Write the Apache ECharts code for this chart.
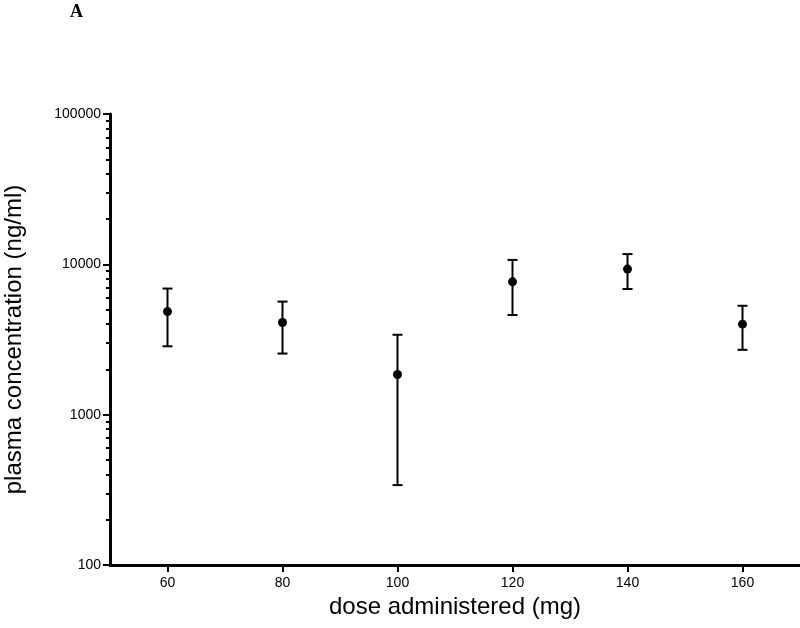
<!DOCTYPE html>
<html>
<head>
<meta charset="utf-8">
<script src="https://cdn.jsdelivr.net/npm/echarts@6/dist/echarts.min.js"></script>
<style>
html,body{margin:0;padding:0;background:#fff;}
#chart{width:800px;height:628px;}
</style>
</head>
<body>
<div id="chart"></div>
<script>
const doses = [60, 80, 100, 120, 140, 160];
const means = [4850, 4100, 1850, 7650, 9300, 4000];
const upper = [6900, 5650, 3400, 10700, 11700, 5300];
const lower = [2850, 2550, 340, 4600, 6850, 2700];
const xTickValues = [60, 80, 100, 120, 140, 160];
const yMajorTicks = [100, 1000, 10000, 100000];
const yMinorTicks = [200,300,400,500,600,700,800,900,2000,3000,4000,5000,6000,7000,8000,9000,20000,30000,40000,50000,60000,70000,80000,90000];

const FONT = 'Liberation Sans, Arial, sans-serif';
const chart = echarts.init(document.getElementById('chart'), null, {renderer: 'canvas'});

const errData = doses.map((d, i) => [d, lower[i], upper[i]]);
const ptData = doses.map((d, i) => [d, means[i]]);

chart.setOption({
  animation: false,
  backgroundColor: '#fff',
  title: {
    text: 'A', left: 70, top: 3, padding: 0,
    textStyle: {fontFamily: 'Liberation Serif, serif', fontWeight: 'bold', fontSize: 18, color: '#000'}
  },
  grid: {left: 110, right: 0, top: 114, bottom: 63, containLabel: false, outerBoundsMode: 'none'},
  xAxis: {
    type: 'value', min: 50, max: 170,
    name: 'dose administered (mg)', nameLocation: 'middle', nameGap: 30,
    nameTextStyle: {fontFamily: FONT, fontSize: 24, color: '#000'},
    axisLine: {show: true, onZero: false, lineStyle: {color: '#000', width: 3}},
    axisTick: {show: true, customValues: xTickValues, length: 7, lineStyle: {color: '#000', width: 2}},
    axisLabel: {customValues: xTickValues, fontFamily: FONT, fontSize: 14, color: '#000', margin: 11},
    splitLine: {show: false}
  },
  yAxis: [{
    type: 'log', logBase: 10, min: 100, max: 100000, interval: 1,
    name: 'plasma concentration (ng/ml)', nameLocation: 'middle', nameGap: 84,
    nameTextStyle: {fontFamily: FONT, fontSize: 24, color: '#000'},
    axisLine: {show: true, lineStyle: {color: '#000', width: 3}},
    axisTick: {show: true, customValues: yMajorTicks, length: 7, lineStyle: {color: '#000', width: 2}},
    axisLabel: {customValues: yMajorTicks, fontFamily: FONT, fontSize: 14, color: '#000', margin: 9,
      formatter: v => String(Math.round(v))},
    splitLine: {show: false}
  }, {
    type: 'log', logBase: 10, min: 100, max: 100000, position: 'left', offset: 0,
    axisLine: {show: false},
    axisTick: {show: true, customValues: yMinorTicks, length: 4, lineStyle: {color: '#000', width: 2}},
    axisLabel: {show: false},
    splitLine: {show: false}
  }],
  series: [{
    type: 'custom',
    data: errData,
    renderItem: function (params, api) {
      const x = api.value(0);
      const lo = api.coord([x, api.value(1)]);
      const hi = api.coord([x, api.value(2)]);
      const w = 5;
      const st = {stroke: '#000', lineWidth: 2};
      return {
        type: 'group',
        children: [
          {type: 'line', shape: {x1: lo[0], y1: lo[1], x2: hi[0], y2: hi[1]}, style: st},
          {type: 'line', shape: {x1: lo[0] - w, y1: lo[1], x2: lo[0] + w, y2: lo[1]}, style: st},
          {type: 'line', shape: {x1: hi[0] - w, y1: hi[1], x2: hi[0] + w, y2: hi[1]}, style: st}
        ]
      };
    },
    z: 2
  }, {
    type: 'scatter',
    data: ptData,
    symbol: 'circle', symbolSize: 9,
    itemStyle: {color: '#000', opacity: 1},
    z: 3
  }]
});
</script>
</body>
</html>
